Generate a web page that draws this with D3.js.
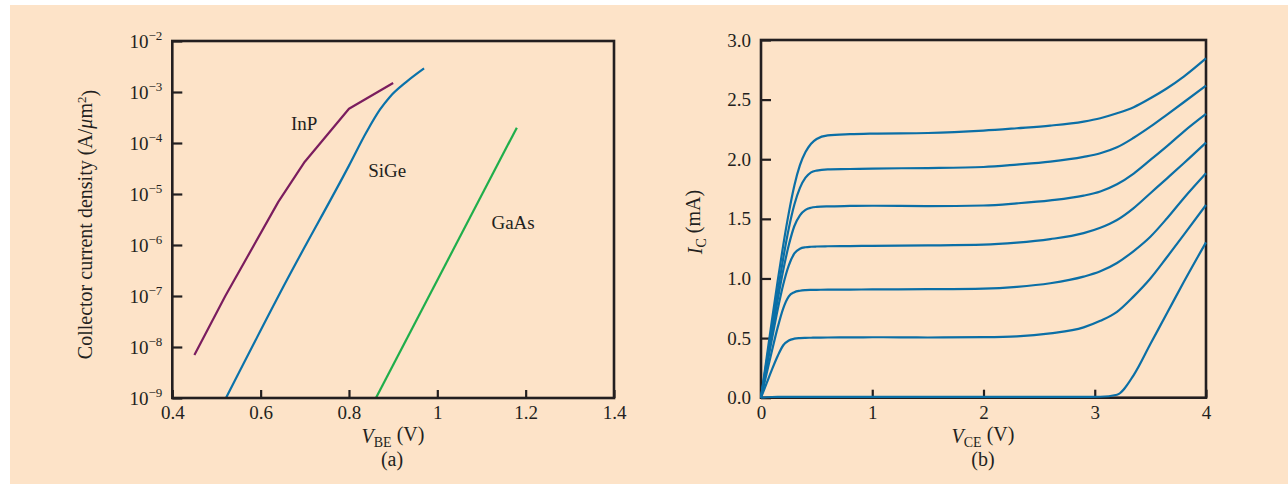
<!DOCTYPE html>
<html>
<head>
<meta charset="utf-8">
<script src="https://cdn.jsdelivr.net/npm/d3@7"></script>
<style>
  html, body { margin: 0; padding: 0; background: #ffffff; }
  svg { display: block; }
  text { font-family: "Liberation Serif", "Times New Roman", serif; fill: #231f20; }
</style>
</head>
<body>
<svg id="chart" width="1288" height="484"></svg>
<script>
// ---------- Panel (a): collector current density vs V_BE ----------
const vbeTicks = [0.4, 0.6, 0.8, 1.0, 1.2, 1.4];
const vbeTickLabels = ["0.4", "0.6", "0.8", "1", "1.2", "1.4"];
const jDecades = [-9, -8, -7, -6, -5, -4, -3, -2];

const inpVbe = [0.45, 0.52, 0.64, 0.70, 0.80, 0.90];
const inpJ   = [7e-9, 1e-7, 7e-6, 4.3e-5, 4.7e-4, 1.5e-3];

const sigeVbe = [0.5215, 0.66, 0.80, 0.84, 0.87, 0.893, 0.93, 0.97];
const sigeJ   = [1e-9, 2.1e-7, 3.6e-5, 1.66e-4, 4.5e-4, 8.1e-4, 1.58e-3, 2.9e-3];

const gaasVbe = [0.861, 1.18];
const gaasJ   = [1e-9, 2e-4];

const materialNames = ["InP", "SiGe", "GaAs"];
const materialColors = ["#7b1d5e", "#0a72aa", "#1fae4b"];
const labelVbe = [0.6686, 0.8434, 1.1226];
const labelJ   = [1.8e-4, 2.2e-5, 2.06e-6];

// ---------- Panel (b): I_C vs V_CE ----------
const vceTicks = [0, 1, 2, 3, 4];
const icTicks = [0, 0.5, 1.0, 1.5, 2.0, 2.5, 3.0];

const vce = [0, 0.05, 0.1, 0.15, 0.2, 0.25, 0.3, 0.35, 0.4, 0.45, 0.5, 0.6, 0.8, 1.0,
             1.5, 2.0, 2.3, 2.6, 2.9, 3.05, 3.2, 3.35, 3.5, 3.65, 3.8, 4.0];

const ic0 = [0, 0.004, 0.006, 0.007, 0.007, 0.007, 0.007, 0.007, 0.007, 0.007, 0.007, 0.007, 0.007, 0.007,
             0.007, 0.007, 0.007, 0.007, 0.007, 0.008, 0.025, 0.19, 0.45, 0.71, 0.97, 1.303];
const ic1 = [0, 0.12, 0.24, 0.35, 0.44, 0.48, 0.495, 0.50, 0.502, 0.503, 0.504, 0.505, 0.506, 0.507,
             0.505, 0.508, 0.515, 0.54, 0.59, 0.645, 0.72, 0.85, 1.0, 1.18, 1.365, 1.616];
const ic2 = [0, 0.20, 0.40, 0.59, 0.75, 0.85, 0.885, 0.897, 0.902, 0.904, 0.905, 0.906, 0.907, 0.908,
             0.91, 0.915, 0.93, 0.96, 1.015, 1.06, 1.13, 1.23, 1.35, 1.505, 1.673, 1.882];
const ic3 = [0, 0.25, 0.50, 0.74, 0.95, 1.11, 1.21, 1.25, 1.262, 1.266, 1.268, 1.27, 1.272, 1.274,
             1.277, 1.283, 1.30, 1.33, 1.38, 1.425, 1.49, 1.59, 1.715, 1.84, 1.966, 2.139];
const ic4 = [0, 0.275, 0.55, 0.82, 1.07, 1.28, 1.44, 1.53, 1.575, 1.593, 1.60, 1.605, 1.608, 1.61,
             1.606, 1.612, 1.63, 1.655, 1.695, 1.73, 1.79, 1.88, 1.994, 2.11, 2.232, 2.38];
const ic5 = [0, 0.30, 0.60, 0.89, 1.17, 1.42, 1.62, 1.76, 1.845, 1.89, 1.905, 1.915, 1.918, 1.922,
             1.926, 1.935, 1.955, 1.98, 2.02, 2.05, 2.10, 2.18, 2.273, 2.375, 2.478, 2.617];
const ic6 = [0, 0.33, 0.66, 0.98, 1.28, 1.55, 1.78, 1.95, 2.06, 2.13, 2.17, 2.20, 2.21, 2.215,
             2.22, 2.24, 2.26, 2.282, 2.316, 2.344, 2.385, 2.436, 2.511, 2.595, 2.693, 2.846];

const icCurves = [ic0, ic1, ic2, ic3, ic4, ic5, ic6];
const curveColor = "#0b6fa6";

// ---------- drawing ----------
const ink = "#231f20";
const tickFont = "19px";
const supFont = "13px";
const svg = d3.select("#chart");

svg.append("rect").attr("x", 0).attr("y", 0).attr("width", 1288).attr("height", 484).attr("fill", "#ffffff");
svg.append("rect").attr("x", 10).attr("y", 5).attr("width", 1278).attr("height", 479).attr("fill", "#fde3c8");

function frame(g, x0, x1, y0, y1) {
  g.append("rect")
    .attr("x", x0).attr("y", y1)
    .attr("width", x1 - x0).attr("height", y0 - y1)
    .attr("fill", "none").attr("stroke", ink).attr("stroke-width", 2.6);
}

function styleAxis(g) {
  g.select(".domain").remove();
  g.selectAll(".tick line").attr("stroke", ink).attr("stroke-width", 2.2);
  g.selectAll(".tick text").attr("fill", ink).style("font-size", tickFont)
    .style("font-family", "'Liberation Serif', 'Times New Roman', serif");
}

// Panel (a)
const xa = d3.scaleLinear().domain([0.4, 1.4]).range([172.3, 614]);
const ya = d3.scaleLog().domain([1e-9, 1e-2]).range([398, 41]);

const ga = svg.append("g");

ga.append("g")
  .attr("transform", `translate(0,${ya.range()[0]})`)
  .call(d3.axisBottom(xa).tickValues(vbeTicks)
        .tickFormat((d, i) => vbeTickLabels[i]).tickSize(-8).tickSizeOuter(0).tickPadding(8))
  .call(styleAxis);

const yAxisA = ga.append("g")
  .attr("transform", `translate(${xa.range()[0]},0)`)
  .call(d3.axisLeft(ya).tickValues(jDecades.map(e => Math.pow(10, e)))
        .tickFormat("").tickSize(-10).tickSizeOuter(0).tickPadding(10))
  .call(styleAxis);

yAxisA.selectAll(".tick text").each(function(d, i) {
  const t = d3.select(this);
  t.text(null).attr("dy", "0.32em");
  t.append("tspan").text("10");
  t.append("tspan").text("\u2212" + Math.abs(jDecades[i]))
    .attr("dy", "-0.6em").style("font-size", supFont);
});

const materials = [
  { v: inpVbe, j: inpJ, smooth: false },
  { v: sigeVbe, j: sigeJ, smooth: true },
  { v: gaasVbe, j: gaasJ, smooth: false }
];

materials.forEach((m, k) => {
  const line = d3.line()
    .x(i => xa(m.v[i]))
    .y(i => ya(m.j[i]))
    .curve(m.smooth ? d3.curveMonotoneX : d3.curveLinear);
  ga.append("path")
    .attr("d", line(d3.range(m.v.length)))
    .attr("fill", "none")
    .attr("stroke", materialColors[k])
    .attr("stroke-width", 2.2)
    .attr("stroke-linejoin", "round");
  ga.append("text")
    .attr("x", xa(labelVbe[k]))
    .attr("y", ya(labelJ[k]))
    .style("font-size", "19px")
    .text(materialNames[k]);
});

frame(ga, 172.3, 614, 398, 41);

// y title (a)
ga.append("text")
  .attr("transform", "translate(92,224.5) rotate(-90)")
  .attr("text-anchor", "middle")
  .style("font-size", "20px")
  .call(t => {
    t.append("tspan").text("Collector current density  (A/");
    t.append("tspan").text("\u03bc").style("font-style", "italic");
    t.append("tspan").text("m");
    t.append("tspan").text("2").attr("dy", "-0.5em").style("font-size", supFont);
    t.append("tspan").text(")").attr("dy", "0.5em");
  });

// x title (a)
ga.append("text")
  .attr("x", 393).attr("y", 443)
  .attr("text-anchor", "middle")
  .style("font-size", "20px")
  .call(t => {
    t.append("tspan").text("V").style("font-style", "italic");
    t.append("tspan").text("BE").attr("dy", "0.3em").style("font-size", "14px");
    t.append("tspan").text("  (V)").attr("dy", "-0.3em");
  });
ga.append("text")
  .attr("x", 392).attr("y", 466)
  .attr("text-anchor", "middle")
  .style("font-size", "20px")
  .text("(a)");

// Panel (b)
const xb = d3.scaleLinear().domain([0, 4]).range([761, 1206]);
const yb = d3.scaleLinear().domain([0, 3]).range([397.7, 40]);

const gb = svg.append("g");

gb.append("g")
  .attr("transform", `translate(0,${yb.range()[0]})`)
  .call(d3.axisBottom(xb).tickValues(vceTicks).tickFormat(d3.format("d"))
        .tickSize(-8).tickSizeOuter(0).tickPadding(8))
  .call(styleAxis);

gb.append("g")
  .attr("transform", `translate(${xb.range()[0]},0)`)
  .call(d3.axisLeft(yb).tickValues(icTicks).tickFormat(d3.format(".1f"))
        .tickSize(-10).tickSizeOuter(0).tickPadding(10))
  .call(styleAxis);

frame(gb, 761, 1206, 397.7, 40);

const icLine = d3.line()
  .x(i => xb(vce[i]))
  .curve(d3.curveMonotoneX);

icCurves.forEach(c => {
  gb.append("path")
    .attr("d", icLine.y(i => yb(c[i]))(d3.range(vce.length)))
    .attr("fill", "none")
    .attr("stroke", curveColor)
    .attr("stroke-width", 2.2)
    .attr("stroke-linejoin", "round");
});

// y title (b)
gb.append("text")
  .attr("transform", "translate(702,222) rotate(-90)")
  .attr("text-anchor", "middle")
  .style("font-size", "20px")
  .call(t => {
    t.append("tspan").text("I").style("font-style", "italic");
    t.append("tspan").text("C").attr("dy", "0.3em").style("font-size", "14px");
    t.append("tspan").text("  (mA)").attr("dy", "-0.3em");
  });

// x title (b)
gb.append("text")
  .attr("x", 983).attr("y", 443)
  .attr("text-anchor", "middle")
  .style("font-size", "20px")
  .call(t => {
    t.append("tspan").text("V").style("font-style", "italic");
    t.append("tspan").text("CE").attr("dy", "0.3em").style("font-size", "14px");
    t.append("tspan").text("  (V)").attr("dy", "-0.3em");
  });
gb.append("text")
  .attr("x", 983).attr("y", 466)
  .attr("text-anchor", "middle")
  .style("font-size", "20px")
  .text("(b)");
</script>
</body>
</html>
